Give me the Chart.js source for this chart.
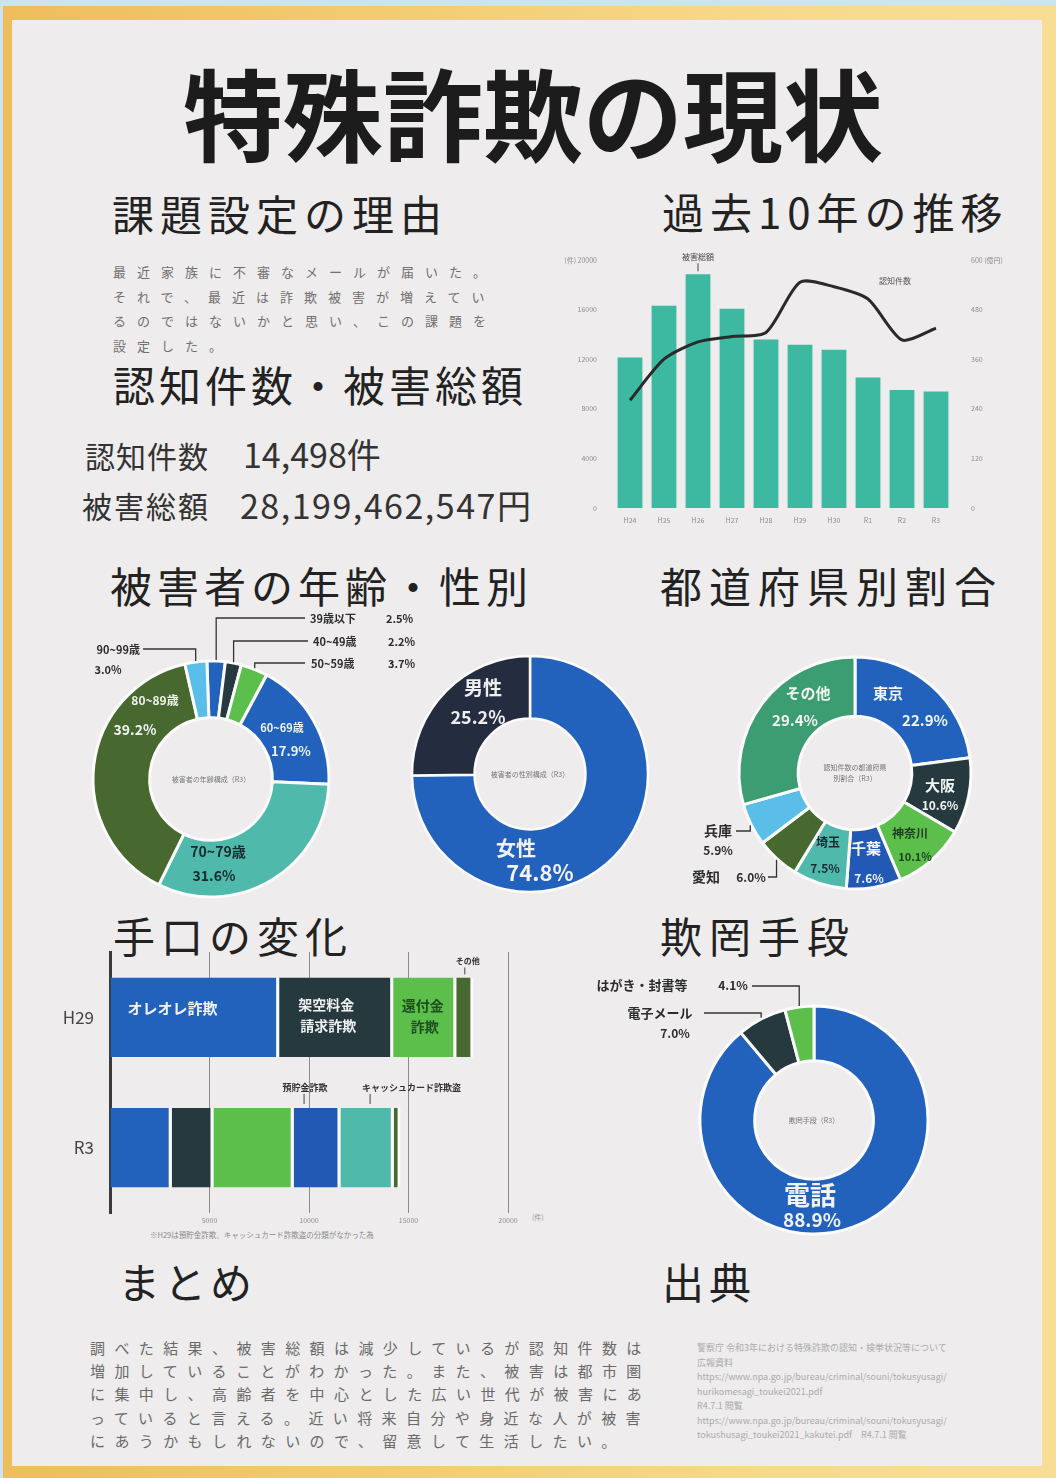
<!DOCTYPE html>
<html><head><meta charset="utf-8">
<script src="https://cdn.jsdelivr.net/npm/chart.js@4.4.1/dist/chart.umd.min.js"></script>
<style>
html,body{margin:0;padding:0;}
body{width:1056px;height:1478px;position:relative;overflow:hidden;background:#cfe2f1;font-family:"Noto Sans CJK JP","Noto Sans",sans-serif;}
#frame{position:absolute;left:3px;top:6px;width:1053px;height:1472px;background:linear-gradient(90deg,#eebd5c 0%,#f3cd74 40%,#f7da8c 75%,#f8dd94 100%);}
#poster{position:absolute;left:12px;top:20px;width:1030px;height:1446px;background:#eeecec;}
.t{position:absolute;white-space:pre;line-height:1;color:#262626;}
.h{font-size:42px;font-weight:400;color:#222;}
canvas{position:absolute;}
</style></head><body>
<div id="frame"></div>
<div id="poster"></div>

<div class="t" style="left:183px;top:61px;font-size:100px;font-weight:700;color:#1c1c1c;">特殊詐欺の現状</div>
<div class="t h" style="left:112px;top:192px;letter-spacing:6px;">課題設定の理由</div>
<div class="t h" style="left:662px;top:190px;letter-spacing:6px;">過去10年の推移</div>
<div class="t h" style="left:113px;top:363px;letter-spacing:4px;">認知件数・被害総額</div>
<div class="t h" style="left:110px;top:564px;letter-spacing:5px;">被害者の年齢・性別</div>
<div class="t h" style="left:660px;top:564px;letter-spacing:7px;">都道府県別割合</div>
<div class="t h" style="left:113px;top:914px;letter-spacing:6px;">手口の変化</div>
<div class="t h" style="left:660px;top:914px;letter-spacing:7px;">欺罔手段</div>
<div class="t h" style="left:118px;top:1260px;letter-spacing:4px;">まとめ</div>
<div class="t h" style="left:662px;top:1260px;letter-spacing:5px;">出典</div>

<div class="t" style="left:113px;top:260px;font-size:13px;letter-spacing:11px;line-height:24.5px;color:#707070;">最近家族に不審なメールが届いた。
それで、最近は詐欺被害が増えてい
るのではないかと思い、この課題を
設定した。</div>

<div class="t" style="left:85px;top:440px;font-size:30px;letter-spacing:1px;color:#333;">認知件数</div>
<div class="t" style="left:243px;top:437px;font-size:34px;color:#333;">14,498件</div>
<div class="t" style="left:82px;top:490px;font-size:30px;letter-spacing:2px;color:#333;">被害総額</div>
<div class="t" style="left:240px;top:488px;font-size:34px;letter-spacing:1.5px;color:#333;">28,199,462,547円</div>

<div class="t" style="left:150px;top:1231px;font-size:7.5px;color:#8a8a8a;">※H29は預貯金詐欺、キャッシュカード詐欺盗の分類がなかった為</div>
<div class="t" style="left:532px;top:1214px;font-size:7px;color:#9a9a9a;">(件)</div>

<div class="t" style="left:90px;top:1336px;font-size:15px;letter-spacing:9.4px;line-height:23.2px;color:#6a6a6a;">調べた結果、被害総額は減少しているが認知件数は
増加していることがわかった。また、被害は都市圏
に集中し、高齢者を中心とした広い世代が被害にあ
っていると言える。近い将来自分や身近な人が被害
にあうかもしれないので、留意して生活したい。</div>

<div class="t" style="left:697px;top:1341px;font-size:9px;line-height:14.5px;color:#ababab;">警察庁 令和3年における特殊詐欺の認知・検挙状況等について
広報資料
https://www.npa.go.jp/bureau/criminal/souni/tokusyusagi/
hurikomesagi_toukei2021.pdf
R4.7.1 閲覧
https://www.npa.go.jp/bureau/criminal/souni/tokusyusagi/
tokushusagi_toukei2021_kakutei.pdf　R4.7.1 閲覧</div>

<canvas id="cTrend" width="480" height="290" style="left:555px;top:240px;"></canvas>
<canvas id="cAge" width="365" height="300" style="left:60px;top:600px;"></canvas>
<canvas id="cGender" width="255" height="260" style="left:405px;top:640px;"></canvas>
<canvas id="cPref" width="380" height="265" style="left:665px;top:640px;"></canvas>
<canvas id="cMethod" width="500" height="300" style="left:60px;top:945px;"></canvas>
<canvas id="cMeans" width="420" height="285" style="left:575px;top:960px;"></canvas>

<script>
// ===================== DATA =====================
const trendYears   = ['H24','H25','H26','H27','H28','H29','H30','R1','R2','R3'];
const trendDamage  = [364.4, 489.5, 565.5, 482.0, 407.7, 394.7, 382.9, 315.8, 285.2, 282.0]; // 被害総額（億円）
const trendCases   = [8693, 11998, 13392, 13824, 14154, 18212, 17844, 16851, 13550, 14498]; // 認知件数（件）
const trendCaseTicks   = [0, 4000, 8000, 12000, 16000, 20000];
const trendDamageTicks = [0, 120, 240, 360, 480, 600];

const ageLabels = ['39歳以下','40~49歳','50~59歳','60~69歳','70~79歳','80~89歳','90~99歳'];
const ageValues = [2.5, 2.2, 3.7, 17.9, 31.6, 39.2, 3.0];

const genderLabels = ['女性','男性'];
const genderValues = [74.8, 25.2];

const prefLabels = ['東京','大阪','神奈川','千葉','埼玉','愛知','兵庫','その他'];
const prefValues = [22.9, 10.6, 10.1, 7.6, 7.5, 6.0, 5.9, 29.4];

const methodYears = ['H29','R3'];
const methodTypes = ['オレオレ詐欺','架空料金請求詐欺','還付金詐欺','預貯金詐欺','キャッシュカード詐欺盗','その他'];
const methodOreore   = [8500, 3100];
const methodKakuu    = [5730, 2100];
const methodKanpu    = [3170, 4030];
const methodYochokin = [null, 2350];
const methodCard     = [null, 2680];
const methodOther    = [860, 340];
const methodTicks    = [5000, 10000, 15000, 20000];

const meansLabels = ['電話','電子メール','はがき・封書等'];
const meansValues = [88.9, 7.0, 4.1];

// ===================== STYLE =====================
const FONT = '"Noto Sans CJK JP","Noto Sans",sans-serif';
const BLUE='#2262bc', DARK='#26393f', GREEN='#5cbf4b', OLIVE='#47692f', TEAL='#4fbaab', SKY='#5bbee8', NAVY='#242c40', SEA='#3c9c72';
const GAP='#fbfbfb';
const pct = v => v.toFixed(1) + '%';

Chart.defaults.font.family = FONT;
Chart.defaults.animation = false;
Chart.defaults.responsive = false;
Chart.defaults.plugins.legend.display = false;
Chart.defaults.plugins.tooltip.enabled = false;

// ---- plugin: texts & leaders on doughnuts ----
const donutText = {
  id: 'donutText',
  afterDatasetsDraw(chart, args, o) {
    if (!o || !o.items) return;
    const ctx = chart.ctx;
    const arcs = chart.getDatasetMeta(0).data;
    const cx = arcs[0].x, cy = arcs[0].y;
    ctx.save();
    if (o.center) {
      ctx.font = `400 ${o.center.size}px ${FONT}`;
      ctx.fillStyle = o.center.color; ctx.textAlign = 'center'; ctx.textBaseline = 'middle';
      const n = o.center.lines.length;
      o.center.lines.forEach((l, k) => ctx.fillText(l, cx, cy + (k - (n - 1) / 2) * o.center.size * 1.5));
    }
    o.items.forEach(it => {
      const a = arcs[it.i];
      if (it.leader) {
        const mid = (a.startAngle + a.endAngle) / 2;
        const r = a.outerRadius + 1;
        const px = cx + Math.cos(mid) * r, py = cy + Math.sin(mid) * r;
        const ly = cy + it.leader.y, lx = cx + it.leader.x;
        ctx.beginPath(); ctx.moveTo(px, py); ctx.lineTo(px, ly); ctx.lineTo(lx, ly);
        ctx.strokeStyle = '#333'; ctx.lineWidth = 1.3; ctx.stroke();
      }
      it.lines.forEach(ln => {
        ctx.font = `700 ${ln.s}px ${FONT}`;
        ctx.fillStyle = ln.c || it.c; ctx.textAlign = ln.a || 'center'; ctx.textBaseline = 'middle';
        ctx.fillText(ln.t, cx + ln.x, cy + ln.y);
      });
    });
    ctx.restore();
  }
};

// ---- plugin: notes on bars / points ----
const elemNotes = {
  id: 'elemNotes',
  afterDatasetsDraw(chart, args, o) {
    if (!o || !o.items) return;
    const ctx = chart.ctx;
    ctx.save();
    o.items.forEach(it => {
      const el = chart.getDatasetMeta(it.ds).data[it.i];
      let mx, top, left, cyy;
      if (chart.options.indexAxis === 'y') {
        mx = (el.x + el.base) / 2; left = Math.min(el.x, el.base); top = el.y - el.height / 2; cyy = el.y;
      } else {
        mx = el.x; left = el.x - (el.width || 0) / 2; top = el.y; cyy = el.y;
      }
      if (it.tick) {
        ctx.beginPath();
        ctx.moveTo(mx + it.tick.x, top + it.tick.y1); ctx.lineTo(mx + it.tick.x, top + it.tick.y2);
        ctx.strokeStyle = '#444'; ctx.lineWidth = 1; ctx.stroke();
      }
      it.lines.forEach(ln => {
        ctx.font = `${ln.w || 700} ${ln.s}px ${FONT}`;
        ctx.fillStyle = ln.c; ctx.textAlign = ln.a || 'center'; ctx.textBaseline = 'middle';
        const x = (ln.from === 'left' ? left : mx) + ln.x;
        const y = (ln.from === 'top' ? top : cyy) + ln.y;
        ctx.fillText(ln.t, x, y);
      });
    });
    ctx.restore();
  }
};

function donutLayout(box, c, R) {
  return { left: c[0] - R - box[0], top: c[1] - R - box[1], right: box[0] + box[2] - (c[0] + R), bottom: box[1] + box[3] - (c[1] + R) };
}

// ===================== 過去10年の推移 =====================
const tickGray = { size: 7 };
new Chart(document.getElementById('cTrend'), {
  data: {
    labels: trendYears,
    datasets: [
      { type: 'line', label: '認知件数', data: trendCases, yAxisID: 'y', borderColor: '#2a2a2a', borderWidth: 3, pointRadius: 0, tension: 0.25, order: 1 },
      { type: 'bar', label: '被害総額', data: trendDamage, yAxisID: 'y2', backgroundColor: '#3db9a2', borderWidth: 0, barPercentage: 0.73, categoryPercentage: 1, order: 2 }
    ]
  },
  options: {
    layout: { padding: { top: 20, left: 0, right: 0, bottom: 0 } },
    scales: {
      x: { grid: { display: false }, border: { display: false }, ticks: { font: tickGray, color: '#8e8e8e', padding: 0 }, afterFit: s => { s.height = 22; } },
      y: { position: 'left', min: 0, max: 20000, afterBuildTicks: s => { s.ticks = trendCaseTicks.map(v => ({ value: v })); },
           grid: { display: false }, border: { display: false },
           ticks: { font: tickGray, color: '#8e8e8e', padding: 8, callback: v => v === 20000 ? '(件) 20000' : String(v) },
           afterFit: s => { s.width = 58; } },
      y2: { position: 'right', min: 0, max: 600, afterBuildTicks: s => { s.ticks = trendDamageTicks.map(v => ({ value: v })); },
            grid: { display: false }, border: { display: false },
            ticks: { font: tickGray, color: '#8e8e8e', padding: 10, callback: v => v === 600 ? '600 (億円)' : String(v) },
            afterFit: s => { s.width = 82; } }
    },
    plugins: {
      elemNotes: { items: [
        { ds: 1, i: 2, tick: { x: 0, y1: -11, y2: -3 }, lines: [{ t: '被害総額', s: 8, c: '#444', w: 400, from: 'top', x: 0, y: -17 }] },
        { ds: 0, i: 7, lines: [{ t: '認知件数', s: 8, c: '#555', w: 400, x: 27, y: -18 }] }
      ] }
    }
  },
  plugins: [elemNotes]
});

// ===================== 被害者の年齢 =====================
(() => {
  const box = [60, 600, 365, 300], c = [211, 779], R = 118;
  const D = '#2d2d2d';
  new Chart(document.getElementById('cAge'), {
    type: 'doughnut',
    data: { labels: ageLabels, datasets: [{ data: ageValues,
      backgroundColor: [BLUE, DARK, GREEN, BLUE, TEAL, OLIVE, SKY], borderColor: GAP, borderWidth: 3 }] },
    options: {
      layout: { padding: donutLayout(box, c, R) }, radius: R, cutout: '52%', rotation: -2,
      plugins: { donutText: {
        center: { lines: ['被害者の年齢構成（R3）'], size: 7, color: '#777' },
        items: [
          { i: 0, leader: { x: 94, y: -161 }, lines: [{ t: ageLabels[0], s: 11, c: D, a: 'left', x: 99, y: -160 }, { t: pct(ageValues[0]), s: 11, c: D, a: 'left', x: 175, y: -160 }] },
          { i: 1, leader: { x: 97, y: -138 }, lines: [{ t: ageLabels[1], s: 11, c: D, a: 'left', x: 102, y: -137 }, { t: pct(ageValues[1]), s: 11, c: D, a: 'left', x: 177, y: -137 }] },
          { i: 2, leader: { x: 94, y: -116 }, lines: [{ t: ageLabels[2], s: 11, c: D, a: 'left', x: 100, y: -115 }, { t: pct(ageValues[2]), s: 11, c: D, a: 'left', x: 177, y: -115 }] },
          { i: 6, leader: { x: -68, y: -130 }, lines: [{ t: ageLabels[6], s: 11, c: D, a: 'right', x: -71, y: -129 }, { t: pct(ageValues[6]), s: 11, c: D, x: -103, y: -109 }] },
          { i: 5, lines: [{ t: ageLabels[5], s: 12, c: '#f2f2f2', x: -56, y: -79 }, { t: pct(ageValues[5]), s: 14, c: '#f2f2f2', x: -76, y: -49 }] },
          { i: 3, lines: [{ t: ageLabels[3], s: 11, c: '#f2f2f2', x: 71, y: -51 }, { t: pct(ageValues[3]), s: 13, c: '#f2f2f2', x: 80, y: -28 }] },
          { i: 4, lines: [{ t: ageLabels[4], s: 14, c: '#1c2a30', x: 7, y: 73 }, { t: pct(ageValues[4]), s: 14, c: '#1c2a30', x: 3, y: 97 }] }
        ] } }
    },
    plugins: [donutText]
  });
})();

// ===================== 性別 =====================
(() => {
  const box = [405, 640, 255, 260], c = [530, 774], R = 118;
  new Chart(document.getElementById('cGender'), {
    type: 'doughnut',
    data: { labels: genderLabels, datasets: [{ data: genderValues, backgroundColor: [BLUE, NAVY], borderColor: GAP, borderWidth: 2.5 }] },
    options: {
      layout: { padding: donutLayout(box, c, R) }, radius: R, cutout: '47%',
      plugins: { donutText: {
        center: { lines: ['被害者の性別構成（R3）'], size: 7, color: '#777' },
        items: [
          { i: 1, lines: [{ t: genderLabels[1], s: 19, c: '#eeeeee', x: -47, y: -86 }, { t: pct(genderValues[1]), s: 18, c: '#eeeeee', x: -52, y: -57 }] },
          { i: 0, lines: [{ t: genderLabels[0], s: 20, c: '#f2f2f2', x: -14, y: 74 }, { t: pct(genderValues[0]), s: 22, c: '#f2f2f2', x: 10, y: 99 }] }
        ] } }
    },
    plugins: [donutText]
  });
})();

// ===================== 都道府県別割合 =====================
(() => {
  const box = [665, 640, 380, 265], c = [855, 773], R = 116;
  const W = '#f0f4f2', D = '#1f3d22', K = '#2d2d2d';
  new Chart(document.getElementById('cPref'), {
    type: 'doughnut',
    data: { labels: prefLabels, datasets: [{ data: prefValues,
      backgroundColor: [BLUE, DARK, GREEN, '#2159b5', TEAL, OLIVE, SKY, SEA], borderColor: GAP, borderWidth: 3 }] },
    options: {
      layout: { padding: donutLayout(box, c, R) }, radius: R, cutout: '49%',
      plugins: { donutText: {
        center: { lines: ['認知件数の都道府県', '別割合（R3）'], size: 7, color: '#777' },
        items: [
          { i: 7, lines: [{ t: prefLabels[7], s: 15, c: W, x: -47, y: -80 }, { t: pct(prefValues[7]), s: 15, c: W, x: -60, y: -53 }] },
          { i: 0, lines: [{ t: prefLabels[0], s: 15, c: W, x: 33, y: -80 }, { t: pct(prefValues[0]), s: 15, c: W, x: 70, y: -53 }] },
          { i: 1, lines: [{ t: prefLabels[1], s: 15, c: W, x: 85, y: 12 }, { t: pct(prefValues[1]), s: 12, c: W, x: 85, y: 32 }] },
          { i: 2, lines: [{ t: prefLabels[2], s: 12, c: D, x: 55, y: 60 }, { t: pct(prefValues[2]), s: 11, c: D, x: 60, y: 84 }] },
          { i: 3, lines: [{ t: prefLabels[3], s: 15, c: W, x: 11, y: 75 }, { t: pct(prefValues[3]), s: 12, c: W, x: 14, y: 105 }] },
          { i: 4, lines: [{ t: prefLabels[4], s: 12, c: '#1c2a30', x: -27, y: 69 }, { t: pct(prefValues[4]), s: 12, c: '#1c2a30', x: -30, y: 95 }] },
          { i: 6, leader: { x: -119, y: 58 }, lines: [{ t: prefLabels[6], s: 14, c: K, a: 'right', x: -123, y: 58 }, { t: pct(prefValues[6]), s: 12, c: K, x: -137, y: 77 }] },
          { i: 5, leader: { x: -87, y: 104 }, lines: [{ t: prefLabels[5], s: 14, c: K, x: -149, y: 104 }, { t: pct(prefValues[5]), s: 12, c: K, x: -104, y: 104 }] }
        ] } }
    },
    plugins: [donutText]
  });
})();

// ===================== 手口の変化 =====================
(() => {
  const bw = { top: 0, bottom: 0, left: 0, right: 3 };
  const mk = (i, data, color) => ({ label: methodTypes[i], data, backgroundColor: color, borderColor: GAP, borderWidth: bw, borderSkipped: false, barPercentage: 0.61, categoryPercentage: 1 });
  new Chart(document.getElementById('cMethod'), {
    type: 'bar',
    data: { labels: methodYears, datasets: [
      mk(0, methodOreore, BLUE), mk(1, methodKakuu, DARK), mk(2, methodKanpu, GREEN),
      mk(3, methodYochokin, '#2159b5'), mk(4, methodCard, TEAL), mk(5, methodOther, OLIVE)
    ] },
    options: {
      indexAxis: 'y',
      layout: { padding: { top: 7, right: 52, left: 0, bottom: 0 } },
      scales: {
        x: { stacked: true, min: 0, max: 20000,
             afterBuildTicks: s => { s.ticks = [0].concat(methodTicks).map(v => ({ value: v })); },
             grid: { color: ctx => ctx.tick && ctx.tick.value === 0 ? 'rgba(0,0,0,0)' : '#8c8c8c', lineWidth: 1, drawTicks: false },
             border: { display: false },
             ticks: { font: { size: 7 }, color: '#8e8e8e', padding: 3, callback: v => v === 0 ? '' : String(v) },
             afterFit: s => { s.height = 32; s.paddingLeft = 0; s.paddingRight = 0; } },
        y: { stacked: true, grid: { display: false }, border: { display: true, color: '#3a3a3a', width: 3 },
             ticks: { font: { size: 17, weight: 400 }, color: '#444', padding: 8 },
             afterFit: s => { s.width = 50; s.paddingTop = 0; s.paddingBottom = 0; } }
      },
      plugins: { elemNotes: { items: [
        { ds: 0, i: 0, lines: [{ t: methodTypes[0], s: 15, c: '#f2f2f2', a: 'left', from: 'left', x: 17, y: -9 }] },
        { ds: 1, i: 0, lines: [{ t: methodTypes[1].slice(0, 4), s: 14, c: '#f0f0f0', x: -10, y: -13 }, { t: methodTypes[1].slice(4), s: 14, c: '#f0f0f0', x: -8, y: 8 }] },
        { ds: 2, i: 0, lines: [{ t: methodTypes[2].slice(0, 3), s: 14, c: '#1e4d22', x: -2, y: -12 }, { t: methodTypes[2].slice(3), s: 14, c: '#1e4d22', x: 0, y: 9 }] },
        { ds: 5, i: 0, tick: { x: 0, y1: -10, y2: -3 }, lines: [{ t: methodTypes[5], s: 8, c: '#333', from: 'top', x: 3, y: -16 }] },
        { ds: 3, i: 1, tick: { x: -13, y1: -14, y2: -4 }, lines: [{ t: methodTypes[3], s: 9, c: '#333', from: 'top', x: -12, y: -20 }] },
        { ds: 4, i: 1, tick: { x: 3, y1: -14, y2: -4 }, lines: [{ t: methodTypes[4], s: 9, c: '#333', a: 'left', from: 'top', x: -5, y: -20 }] }
      ] } }
    },
    plugins: [elemNotes]
  });
})();

// ===================== 欺罔手段 =====================
(() => {
  const box = [575, 960, 420, 285], c = [814, 1120], R = 114;
  const K = '#2d2d2d';
  new Chart(document.getElementById('cMeans'), {
    type: 'doughnut',
    data: { labels: meansLabels, datasets: [{ data: meansValues, backgroundColor: [BLUE, DARK, GREEN], borderColor: GAP, borderWidth: 3 }] },
    options: {
      layout: { padding: donutLayout(box, c, R) }, radius: R, cutout: '52%',
      plugins: { donutText: {
        center: { lines: ['欺罔手段（R3）'], size: 7, color: '#777' },
        items: [
          { i: 0, lines: [{ t: meansLabels[0], s: 26, c: '#f2f2f2', x: -4, y: 75 }, { t: pct(meansValues[0]), s: 19, c: '#f2f2f2', x: -2, y: 100 }] },
          { i: 1, leader: { x: -110, y: -107 }, lines: [{ t: meansLabels[1], s: 13, c: K, x: -154, y: -107 }, { t: pct(meansValues[1]), s: 12, c: K, x: -139, y: -87 }] },
          { i: 2, leader: { x: -62, y: -134 }, lines: [{ t: meansLabels[2], s: 13, c: K, x: -172, y: -135 }, { t: pct(meansValues[2]), s: 12, c: K, x: -81, y: -135 }] }
        ] } }
    },
    plugins: [donutText]
  });
})();
</script>
</body></html>
